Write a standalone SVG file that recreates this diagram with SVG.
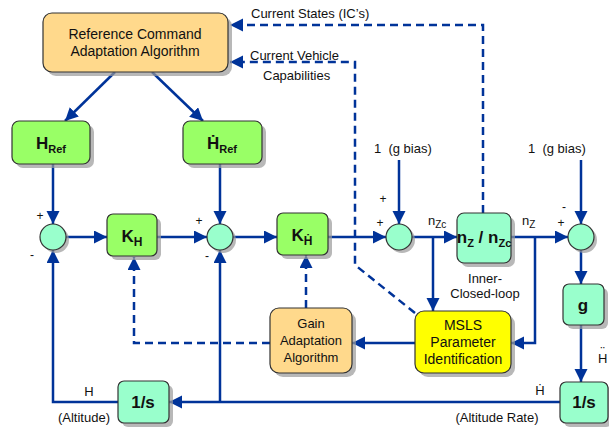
<svg xmlns="http://www.w3.org/2000/svg" width="609" height="428" viewBox="0 0 609 428">
<defs>
<style>
.sh{fill:#9a9a9a;opacity:0.7}
.bx{stroke:#333;stroke-width:1.2}
.or{fill:#FFD98C}
.gr{fill:#99FF66}
.mi{fill:#99FFCC}
.ye{fill:#FFFF00}
.ln{fill:none;stroke:#003399;stroke-width:2.5}
.da{fill:none;stroke:#003399;stroke-width:2.5;stroke-dasharray:8,5}
.t{font-family:"Liberation Sans",Arial,sans-serif;font-size:13px;fill:#111}
.m{font-size:14px}
.c{text-anchor:middle}
.b{font-family:"Liberation Sans",Arial,sans-serif;font-weight:bold;font-size:17px;fill:#111;text-anchor:middle}
.s{font-family:"Liberation Sans",Arial,sans-serif;font-size:12px;fill:#111;text-anchor:middle}
</style>
<marker id="ah" markerWidth="14" markerHeight="14" refX="13" refY="6.5" orient="auto" markerUnits="userSpaceOnUse"><path d="M0,0 L13,6.5 L0,13 z" fill="#003399"/></marker>
</defs>
<rect width="609" height="428" fill="#fff"/>

<g id="connectors">
<path class="ln" marker-end="url(#ah)" d="M115,72 L65,121"/>
<path class="ln" marker-end="url(#ah)" d="M152,72 L203,121"/>
<path class="ln" marker-end="url(#ah)" d="M53,164 L53,224"/>
<path class="ln" marker-end="url(#ah)" d="M220,164 L220,224"/>
<path class="ln" marker-end="url(#ah)" d="M66,237 L107,237"/>
<path class="ln" marker-end="url(#ah)" d="M157,237 L207,237"/>
<path class="ln" marker-end="url(#ah)" d="M233,237 L277,237"/>
<path class="ln" marker-end="url(#ah)" d="M328,237 L386,237"/>
<path class="ln" marker-end="url(#ah)" d="M399,160 L399,224"/>
<path class="ln" marker-end="url(#ah)" d="M412,237 L457,237"/>
<path class="ln" marker-end="url(#ah)" d="M433,237 L433,311"/>
<path class="ln" marker-end="url(#ah)" d="M511,237 L568,237"/>
<path class="ln" marker-end="url(#ah)" d="M535,237 L535,343 L511,343"/>
<path class="ln" marker-end="url(#ah)" d="M581,160 L581,224"/>
<path class="ln" marker-end="url(#ah)" d="M581,250 L581,284"/>
<path class="ln" marker-end="url(#ah)" d="M581,325 L581,382"/>
<path class="ln" marker-end="url(#ah)" d="M560,402 L169,402"/>
<path class="ln" marker-end="url(#ah)" d="M220,402 L220,250"/>
<path class="ln" marker-end="url(#ah)" d="M118,402 L53,402 L53,250"/>
<path class="ln" marker-end="url(#ah)" d="M415,343 L352,343"/>
<path class="da" marker-end="url(#ah)" d="M270,343 L134,343 L134,257"/>
<path class="da" marker-end="url(#ah)" d="M306,308 L306,255"/>
<path class="da" marker-end="url(#ah)" d="M483,213 L483,25 L230,25"/>
<path class="da" marker-end="url(#ah)" d="M415,313 L355,265 L355,62 L230,62"/>
</g>

<g id="labels">
<text class="t" x="251" y="18">Current States (IC’s)</text>
<text class="t" x="250" y="60">Current Vehicle</text>
<text class="t" x="263" y="80">Capabilities</text>
<text class="t" x="374" y="153" style="white-space:pre">1  (g bias)</text>
<text class="t" x="528" y="153" style="white-space:pre">1  (g bias)</text>
<text class="s" x="40" y="220">+</text>
<text class="s" x="32" y="259">-</text>
<text class="s" x="199" y="225">+</text>
<text class="s" x="207" y="260">-</text>
<text class="s" x="383" y="203">+</text>
<text class="s" x="380" y="227">+</text>
<text class="s" x="564" y="211">-</text>
<text class="s" x="561" y="227">+</text>
<text class="t" x="428" y="225">n<tspan font-size="10" dy="3">Zc</tspan></text>
<text class="t" x="522" y="225">n<tspan font-size="10" dy="3">Z</tspan></text>
<text class="t c" x="485" y="283">Inner-</text>
<text class="t c" x="485" y="298">Closed-loop</text>
<text class="t" x="598" y="363">H<tspan dx="-6.9" dy="-7.5">¨</tspan></text>
<text class="t c" x="540" y="395">Ḣ</text>
<text class="t c" x="497" y="422">(Altitude Rate)</text>
<text class="t c" x="89" y="396">H</text>
<text class="t c" x="84" y="422">(Altitude)</text>
</g>

<g id="refcmd">
<rect class="sh" x="47" y="17" width="185" height="59" rx="9"/>
<rect class="bx or" x="43" y="13" width="185" height="59" rx="9"/>
<text class="t m c" x="135" y="39">Reference Command</text>
<text class="t m c" x="135" y="56">Adaptation Algorithm</text>
</g>

<g id="href">
<rect class="sh" x="16" y="125" width="78" height="43" rx="7"/>
<rect class="bx gr" x="12" y="121" width="78" height="43" rx="7"/>
<text class="b" x="51" y="149">H<tspan font-size="11" dy="4">Ref</tspan></text>
</g>

<g id="hdotref">
<rect class="sh" x="187" y="125" width="79" height="43" rx="7"/>
<rect class="bx gr" x="183" y="121" width="79" height="43" rx="7"/>
<text class="b" x="222" y="149">Ḣ<tspan font-size="11" dy="4">Ref</tspan></text>
</g>

<g id="sum1">
<circle class="sh" cx="56" cy="240" r="13"/>
<circle class="bx mi" cx="53" cy="237" r="13"/>
</g>
<g id="kh">
<rect class="sh" x="111" y="218" width="50" height="42" rx="6"/>
<rect class="bx gr" x="107" y="214" width="50" height="42" rx="6"/>
<text class="b" x="132" y="242">K<tspan font-size="12" dy="4">H</tspan></text>
</g>
<g id="sum2">
<circle class="sh" cx="223" cy="240" r="13"/>
<circle class="bx mi" cx="220" cy="237" r="13"/>
</g>
<g id="khdot">
<rect class="sh" x="281" y="217" width="51" height="42" rx="6"/>
<rect class="bx gr" x="277" y="213" width="51" height="42" rx="6"/>
<text class="b" x="302" y="241">K<tspan font-size="12" dy="4">Ḣ</tspan></text>
</g>
<g id="sum3">
<circle class="sh" cx="402" cy="240" r="13"/>
<circle class="bx mi" cx="399" cy="237" r="13"/>
</g>
<g id="nznzc">
<rect class="sh" x="461" y="217" width="54" height="50" rx="7"/>
<rect class="bx mi" x="457" y="213" width="54" height="50" rx="7"/>
<text class="b" x="484" y="243" font-size="15">n<tspan font-size="11" dy="4">Z</tspan><tspan dy="-4"> / n</tspan><tspan font-size="11" dy="4">Zc</tspan></text>
</g>
<g id="sum4">
<circle class="sh" cx="584" cy="240" r="13"/>
<circle class="bx mi" cx="581" cy="237" r="13"/>
</g>
<g id="g">
<rect class="sh" x="567" y="288" width="41" height="41" rx="6"/>
<rect class="bx mi" x="563" y="284" width="41" height="41" rx="6"/>
<text class="b" x="583" y="311">g</text>
</g>
<g id="int2">
<rect class="sh" x="564" y="386" width="48" height="41" rx="6"/>
<rect class="bx mi" x="560" y="382" width="48" height="41" rx="6"/>
<text class="b" x="584" y="408">1/s</text>
</g>
<g id="int1">
<rect class="sh" x="122" y="385" width="51" height="42" rx="6"/>
<rect class="bx mi" x="118" y="381" width="51" height="42" rx="6"/>
<text class="b" x="143" y="408">1/s</text>
</g>
<g id="gainadapt">
<rect class="sh" x="274" y="312" width="82" height="65" rx="9"/>
<rect class="bx or" x="270" y="308" width="82" height="65" rx="9"/>
<text class="t c" x="311" y="328">Gain</text>
<text class="t c" x="311" y="345">Adaptation</text>
<text class="t c" x="311" y="362">Algorithm</text>
</g>
<g id="msls">
<rect class="sh" x="419" y="315" width="96" height="62" rx="9"/>
<rect class="bx ye" x="415" y="311" width="96" height="62" rx="9"/>
<text class="t m c" x="463" y="330">MSLS</text>
<text class="t m c" x="463" y="347">Parameter</text>
<text class="t m c" x="463" y="364">Identification</text>
</g>
</svg>
